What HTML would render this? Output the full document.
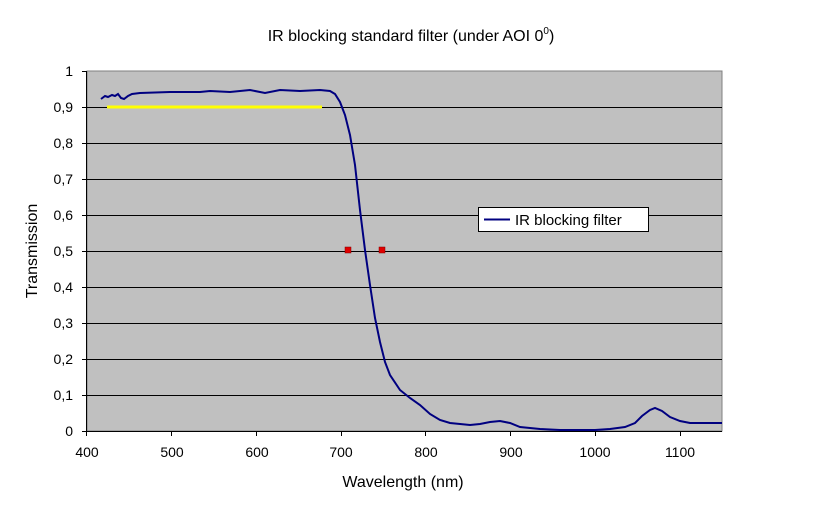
<!DOCTYPE html>
<html><head><style>body{margin:0;background:#fff}svg{display:block;font-family:"Liberation Sans",Arial,sans-serif}</style></head><body>
<svg width="823" height="511" viewBox="0 0 823 511" xmlns="http://www.w3.org/2000/svg">
<rect x="87" y="71" width="635" height="360" fill="#c0c0c0" stroke="#808080"/>
<g stroke="#000" stroke-width="1">
<line x1="87" y1="107.5" x2="722" y2="107.5"/><line x1="87" y1="143.5" x2="722" y2="143.5"/>
<line x1="87" y1="179.5" x2="722" y2="179.5"/><line x1="87" y1="215.5" x2="722" y2="215.5"/>
<line x1="87" y1="251.5" x2="722" y2="251.5"/><line x1="87" y1="287.5" x2="722" y2="287.5"/>
<line x1="87" y1="323.5" x2="722" y2="323.5"/><line x1="87" y1="359.5" x2="722" y2="359.5"/>
<line x1="87" y1="395.5" x2="722" y2="395.5"/>
<line x1="86.5" y1="71" x2="86.5" y2="431"/><line x1="86" y1="431.5" x2="722" y2="431.5"/>
<line x1="82" y1="71.5" x2="87" y2="71.5"/><line x1="82" y1="107.5" x2="87" y2="107.5"/><line x1="82" y1="143.5" x2="87" y2="143.5"/><line x1="82" y1="179.5" x2="87" y2="179.5"/><line x1="82" y1="215.5" x2="87" y2="215.5"/><line x1="82" y1="251.5" x2="87" y2="251.5"/><line x1="82" y1="287.5" x2="87" y2="287.5"/><line x1="82" y1="323.5" x2="87" y2="323.5"/><line x1="82" y1="359.5" x2="87" y2="359.5"/><line x1="82" y1="395.5" x2="87" y2="395.5"/><line x1="82" y1="431.5" x2="87" y2="431.5"/>
<line x1="86.5" y1="431" x2="86.5" y2="436"/><line x1="171.5" y1="431" x2="171.5" y2="436"/><line x1="256.5" y1="431" x2="256.5" y2="436"/><line x1="341.5" y1="431" x2="341.5" y2="436"/><line x1="425.5" y1="431" x2="425.5" y2="436"/><line x1="510.5" y1="431" x2="510.5" y2="436"/><line x1="595.5" y1="431" x2="595.5" y2="436"/><line x1="680.5" y1="431" x2="680.5" y2="436"/>
</g>
<line x1="107" y1="107" x2="322" y2="107" stroke="#ffff00" stroke-width="3"/>
<polyline fill="none" stroke="#000080" stroke-width="2" points="101,99 105,96 108,97 112,95 115,96 118,94 121,98 124,99 128,96 132,94 140,93 170,92 200,92 210,91 230,92 250,90 265,93 280,90 300,91 320,90 330,91 335,94 340,102 345,115 350,135 355,165 360,210 365,250 370,285 375,318 380,342 385,362 390,375 400,390 410,398 420,405 430,414 440,420 450,423 470,425 480,424 490,422 500,421 510,423 520,427 540,429 560,430 580,430 595,430 610,429 625,427 635,423 642,416 650,410 655,408 662,411 670,417 680,421 690,423 722,423"/>
<rect x="345" y="247" width="6" height="6" fill="#e00000" stroke="#800000" stroke-width="0.5"/>
<rect x="379" y="247" width="6" height="6" fill="#e00000" stroke="#800000" stroke-width="0.5"/>
<rect x="478.5" y="207.5" width="170" height="24" fill="#fff" stroke="#000"/>
<line x1="484" y1="219.5" x2="510" y2="219.5" stroke="#000080" stroke-width="2"/>
<text x="515" y="225" font-size="15">IR blocking filter</text>
<g font-size="14" text-anchor="end">
<text x="73" y="76">1</text><text x="73" y="112">0,9</text><text x="73" y="148">0,8</text><text x="73" y="184">0,7</text><text x="73" y="220">0,6</text><text x="73" y="256">0,5</text><text x="73" y="292">0,4</text><text x="73" y="328">0,3</text><text x="73" y="364">0,2</text><text x="73" y="400">0,1</text><text x="73" y="436">0</text>
</g>
<g font-size="14" text-anchor="middle">
<text x="87" y="457">400</text><text x="172" y="457">500</text><text x="257" y="457">600</text><text x="341" y="457">700</text><text x="426" y="457">800</text><text x="511" y="457">900</text><text x="595" y="457">1000</text><text x="680" y="457">1100</text>
</g>
<text x="403" y="487" font-size="16" text-anchor="middle">Wavelength (nm)</text>
<text transform="translate(37,251) rotate(-90)" font-size="16" text-anchor="middle">Transmission</text>
<text x="411" y="41" font-size="16" text-anchor="middle">IR blocking standard filter (under AOI 0<tspan font-size="10" dy="-7">0</tspan><tspan dy="7">)</tspan></text>
</svg>
</body></html>
